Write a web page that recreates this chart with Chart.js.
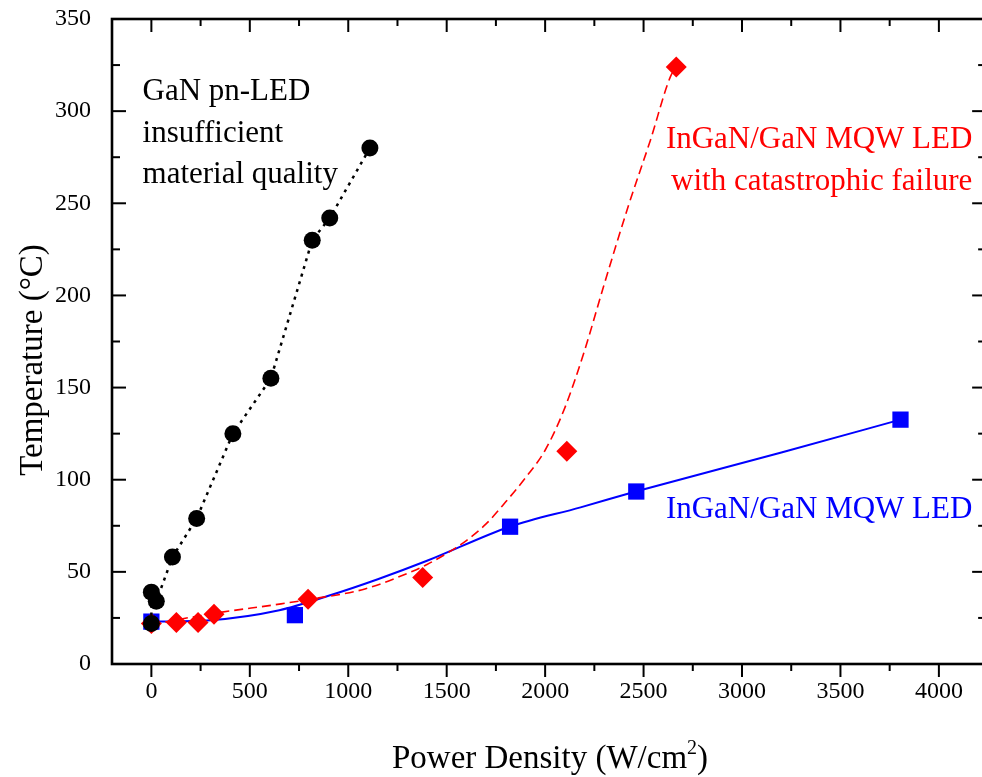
<!DOCTYPE html>
<html>
<head>
<meta charset="utf-8">
<script src="https://cdn.jsdelivr.net/npm/chart.js@4.4.1/dist/chart.umd.min.js"></script>
<style>
  html, body { margin: 0; padding: 0; background: #fff; overflow: hidden; }
  #wrap { width: 982px; height: 777px; }
  #chart { display: block; }
</style>
</head>
<body>
<div id="wrap"><canvas id="chart" width="982" height="777"></canvas></div>
<script>
// values
const ganX = [0, 0, 25, 107, 230, 414, 607, 817, 906, 1110];
const ganY = [22, 39, 34, 58, 79, 125, 155, 230, 242, 280];

const mqwX = [0, 729, 1822, 2463, 3805];
const mqwY = [23, 26.5, 74.5, 93.6, 132.6];
// solid fit curve through the squares
const mqwFitX = [0, 300, 650, 900, 1150, 1400, 1820, 2180, 2460, 3200, 3805];
const mqwFitY = [23, 23.8, 29.2, 37, 46, 56, 74.5, 85, 93.6, 114.8, 132.6];

const failX = [0, 127, 237, 318, 796, 1378, 2110, 2666];
const failY = [22, 22.5, 22.5, 27, 35.2, 46.9, 115.5, 324];
// dashed fit curve through the diamonds
const failFitX = [0, 320, 650, 800, 1080, 1330, 1400, 1500, 1600, 1700, 1800, 1900, 2000, 2100, 2200, 2300, 2424, 2534, 2636, 2666];
const failFitY = [21.5, 27.5, 32.5, 35, 40.6, 50.5, 54, 60, 67, 76, 88, 101, 116, 139, 170, 206, 249, 284, 318.6, 324];

const xTicks = [0, 500, 1000, 1500, 2000, 2500, 3000, 3500, 4000];
const xMinor = [250, 750, 1250, 1750, 2250, 2750, 3250, 3750];
const yTicks = [0, 50, 100, 150, 200, 250, 300, 350];
const yMinor = [25, 75, 125, 175, 225, 275, 325];

// the original frame ends just past the right edge of the picture
const xVisibleMax = 4219;
const xFrameMax = 4240;

const serif = '"Liberation Serif", "Times New Roman", serif';

const toPts = (xs, ys) => xs.map((v, i) => ({ x: v, y: ys[i] }));

// ===================================
// FRAME, TICKS AND TEXT
// ===================================
const framePlugin = {
  id: 'frame',
  afterDatasetsDraw(chart) {
    const { ctx, chartArea: a, scales: { x, y } } = chart;
    const right = x.getPixelForValue(xFrameMax);
    ctx.save();
    ctx.strokeStyle = '#000';
    ctx.lineWidth = 2;
    const seg = (x1, y1, x2, y2) => {
      ctx.beginPath(); ctx.moveTo(x1, y1); ctx.lineTo(x2, y2); ctx.stroke();
    };
    // bottom ticks out, top ticks in
    xTicks.forEach(v => {
      const p = x.getPixelForValue(v);
      seg(p, a.bottom, p, a.bottom + 13);
      seg(p, a.top, p, a.top + 13);
    });
    xMinor.forEach(v => {
      const p = x.getPixelForValue(v);
      seg(p, a.bottom, p, a.bottom + 7);
      seg(p, a.top, p, a.top + 7);
    });
    // left / right ticks in
    yTicks.forEach(v => {
      const p = y.getPixelForValue(v);
      seg(a.left, p, a.left + 14, p);
      seg(right, p, right - 14, p);
    });
    yMinor.forEach(v => {
      const p = y.getPixelForValue(v);
      seg(a.left, p, a.left + 8, p);
      seg(right, p, right - 8, p);
    });
    ctx.lineWidth = 2.6;
    ctx.strokeRect(a.left, a.top, right - a.left, a.bottom - a.top);
    ctx.restore();
  },
  afterDraw(chart) {
    const { ctx, scales: { x, y } } = chart;
    ctx.save();
    ctx.textBaseline = 'alphabetic';

    // annotations
    ctx.font = '31px ' + serif;
    ctx.fillStyle = '#000';
    ctx.textAlign = 'left';
    let bx = x.getPixelForValue(-45), by = y.getPixelForValue(306);
    ['GaN pn-LED', 'insufficient', 'material quality'].forEach((t, i) => ctx.fillText(t, bx, by + i * 41.5));

    ctx.fillStyle = '#ff0000';
    ctx.textAlign = 'right';
    bx = x.getPixelForValue(4170); by = y.getPixelForValue(280);
    ['InGaN/GaN MQW LED', 'with catastrophic failure'].forEach((t, i) => ctx.fillText(t, bx, by + i * 42));

    ctx.fillStyle = '#0000ff';
    ctx.fillText('InGaN/GaN MQW LED', x.getPixelForValue(4170), y.getPixelForValue(79));

    // axis titles
    ctx.fillStyle = '#000';
    ctx.font = '33px ' + serif;
    const p1 = 'Power Density (W/cm', sup = '2', p2 = ')';
    const w1 = ctx.measureText(p1).width, w3 = ctx.measureText(p2).width;
    ctx.font = '20px ' + serif;
    const w2 = ctx.measureText(sup).width;
    const sx = 550 - (w1 + w2 + w3) / 2;
    const base = 768;
    ctx.textAlign = 'left';
    ctx.font = '33px ' + serif;
    ctx.fillText(p1, sx, base);
    ctx.font = '20px ' + serif;
    ctx.fillText(sup, sx + w1, base - 14);
    ctx.font = '33px ' + serif;
    ctx.fillText(p2, sx + w1 + w2, base);

    ctx.translate(42, 360);
    ctx.rotate(-Math.PI / 2);
    ctx.textAlign = 'center';
    ctx.fillText('Temperature (\u00B0C)', 0, 0);
    ctx.restore();
  }
};

// stop Chart.js from adding room for overhanging labels
const noPad = axis => {
  axis.paddingLeft = 0; axis.paddingRight = 0;
  axis.paddingTop = 0; axis.paddingBottom = 0;
};

new Chart(document.getElementById('chart'), {
  type: 'scatter',
  data: {
    datasets: [
      {
        label: 'GaN pn-LED',
        data: toPts(ganX, ganY),
        showLine: true,
        borderColor: '#000',
        borderWidth: 2.5,
        borderDash: [3, 5],
        pointStyle: 'circle',
        pointRadius: 8.5,
        pointBorderWidth: 0,
        pointBackgroundColor: '#000'
      },
      {
        label: 'failure fit',
        data: toPts(failFitX, failFitY),
        showLine: true,
        borderColor: '#ff0000',
        borderWidth: 1.6,
        borderDash: [9, 5],
        cubicInterpolationMode: 'monotone',
        pointRadius: 0
      },
      {
        label: 'InGaN/GaN MQW LED with catastrophic failure',
        data: toPts(failX, failY),
        showLine: false,
        pointStyle: 'rectRot',
        pointRadius: 10.5,
        pointBorderWidth: 0,
        pointBackgroundColor: '#ff0000'
      },
      {
        label: 'MQW fit',
        data: toPts(mqwFitX, mqwFitY),
        showLine: true,
        borderColor: '#0000ff',
        borderWidth: 2,
        cubicInterpolationMode: 'monotone',
        pointRadius: 0
      },
      {
        label: 'InGaN/GaN MQW LED',
        data: toPts(mqwX, mqwY),
        showLine: false,
        pointStyle: 'rect',
        pointRadius: 11.5,
        pointBorderWidth: 0,
        pointBackgroundColor: '#0000ff'
      }
    ]
  },
  options: {
    responsive: false,
    animation: false,
    layout: { autoPadding: false, padding: { top: 19, right: 0, left: 0, bottom: 0 } },
    plugins: {
      legend: { display: false },
      tooltip: { enabled: false }
    },
    scales: {
      x: {
        type: 'linear',
        min: -200,
        max: xVisibleMax,
        grid: { display: false },
        border: { display: false },
        afterBuildTicks: axis => { axis.ticks = xTicks.map(v => ({ value: v })); },
        afterFit: axis => { axis.height = 777 - 664; noPad(axis); },
        ticks: {
          padding: 5,
          color: '#000',
          maxRotation: 0,
          font: { family: serif, size: 24 },
          callback: v => String(v)
        }
      },
      y: {
        type: 'linear',
        min: 0,
        max: 350,
        grid: { display: false },
        border: { display: false },
        afterBuildTicks: axis => { axis.ticks = yTicks.map(v => ({ value: v })); },
        afterFit: axis => { axis.width = 112; noPad(axis); },
        ticks: {
          padding: 13,
          color: '#000',
          font: { family: serif, size: 24 },
          callback: v => String(v)
        }
      }
    }
  },
  plugins: [framePlugin]
});
</script>
</body>
</html>
